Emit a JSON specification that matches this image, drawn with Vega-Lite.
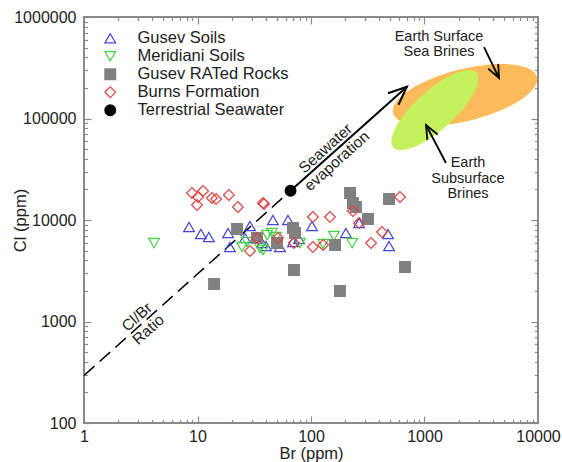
{
  "$schema": "https://vega.github.io/schema/vega-lite/v6.json",
  "width": 454,
  "height": 406,
  "autosize": {"type": "none"},
  "padding": {"left": 84, "top": 17, "right": 24, "bottom": 39},
  "background": "white",
  "config": {
    "font": "Liberation Sans",
    "view": {"stroke": "#8a8a8a", "strokeWidth": 2},
    "axis": {
      "grid": false,
      "domain": false,
      "tickColor": "#8a8a8a",
      "tickWidth": 1.2,
      "labelFont": "Liberation Sans",
      "labelFontSize": 16,
      "labelColor": "#222222",
      "titleFont": "Liberation Sans",
      "titleFontSize": 16.5,
      "titleFontWeight": "normal",
      "titleColor": "#222222"
    }
  },
  "datasets": {
    "samples": [
      {"series": "Gusev Soils", "Br": 8.42, "Cl": 8530},
      {"series": "Gusev Soils", "Br": 10.7, "Cl": 7280},
      {"series": "Gusev Soils", "Br": 12.6, "Cl": 6800},
      {"series": "Gusev Soils", "Br": 18.6, "Cl": 7450},
      {"series": "Gusev Soils", "Br": 19.3, "Cl": 5420},
      {"series": "Gusev Soils", "Br": 29.0, "Cl": 8730},
      {"series": "Gusev Soils", "Br": 46.2, "Cl": 10000},
      {"series": "Gusev Soils", "Br": 62.7, "Cl": 10000},
      {"series": "Gusev Soils", "Br": 102, "Cl": 8730},
      {"series": "Gusev Soils", "Br": 203, "Cl": 7450},
      {"series": "Gusev Soils", "Br": 487, "Cl": 5540},
      {"series": "Gusev Soils", "Br": 477, "Cl": 7280},
      {"series": "Gusev Soils", "Br": 265, "Cl": 9340},
      {"series": "Gusev Soils", "Br": 37.0, "Cl": 5930},
      {"series": "Gusev Soils", "Br": 53.3, "Cl": 5420},
      {"series": "Gusev Soils", "Br": 69.4, "Cl": 6080},
      {"series": "Gusev Soils", "Br": 78.4, "Cl": 6500},
      {"series": "Gusev Soils", "Br": 40.1, "Cl": 5540},
      {"series": "Gusev Soils", "Br": 26.2, "Cl": 6650},
      {"series": "Meridiani Soils", "Br": 4.14, "Cl": 5930},
      {"series": "Meridiani Soils", "Br": 24.7, "Cl": 5420},
      {"series": "Meridiani Soils", "Br": 27.3, "Cl": 6080},
      {"series": "Meridiani Soils", "Br": 35.5, "Cl": 5300},
      {"series": "Meridiani Soils", "Br": 37.8, "Cl": 5060},
      {"series": "Meridiani Soils", "Br": 41.0, "Cl": 7120},
      {"series": "Meridiani Soils", "Br": 45.3, "Cl": 7450},
      {"series": "Meridiani Soils", "Br": 49.2, "Cl": 6800},
      {"series": "Meridiani Soils", "Br": 80.0, "Cl": 5930},
      {"series": "Meridiani Soils", "Br": 128, "Cl": 5800},
      {"series": "Meridiani Soils", "Br": 230, "Cl": 5930},
      {"series": "Meridiani Soils", "Br": 159, "Cl": 6960},
      {"series": "Gusev RATed Rocks", "Br": 14.0, "Cl": 2340},
      {"series": "Gusev RATed Rocks", "Br": 22.3, "Cl": 8150},
      {"series": "Gusev RATed Rocks", "Br": 33.4, "Cl": 6650},
      {"series": "Gusev RATed Rocks", "Br": 50.2, "Cl": 5930},
      {"series": "Gusev RATed Rocks", "Br": 69.4, "Cl": 8340},
      {"series": "Gusev RATed Rocks", "Br": 72.3, "Cl": 7450},
      {"series": "Gusev RATed Rocks", "Br": 70.8, "Cl": 3220},
      {"series": "Gusev RATed Rocks", "Br": 163, "Cl": 5670},
      {"series": "Gusev RATed Rocks", "Br": 221, "Cl": 18450},
      {"series": "Gusev RATed Rocks", "Br": 234, "Cl": 14710},
      {"series": "Gusev RATed Rocks", "Br": 249, "Cl": 13430},
      {"series": "Gusev RATed Rocks", "Br": 318, "Cl": 10230},
      {"series": "Gusev RATed Rocks", "Br": 487, "Cl": 16100},
      {"series": "Gusev RATed Rocks", "Br": 673, "Cl": 3440},
      {"series": "Gusev RATed Rocks", "Br": 180, "Cl": 2000},
      {"series": "Burns Formation", "Br": 8.94, "Cl": 18450},
      {"series": "Burns Formation", "Br": 11.2, "Cl": 19310},
      {"series": "Burns Formation", "Br": 10.1, "Cl": 16850},
      {"series": "Burns Formation", "Br": 9.9, "Cl": 14050},
      {"series": "Burns Formation", "Br": 13.4, "Cl": 16470},
      {"series": "Burns Formation", "Br": 14.6, "Cl": 16100},
      {"series": "Burns Formation", "Br": 18.9, "Cl": 17630},
      {"series": "Burns Formation", "Br": 22.7, "Cl": 13430},
      {"series": "Burns Formation", "Br": 37.8, "Cl": 14710},
      {"series": "Burns Formation", "Br": 38.6, "Cl": 14380},
      {"series": "Burns Formation", "Br": 29.0, "Cl": 4950},
      {"series": "Burns Formation", "Br": 33.4, "Cl": 6650},
      {"series": "Burns Formation", "Br": 51.2, "Cl": 6650},
      {"series": "Burns Formation", "Br": 70.8, "Cl": 5930},
      {"series": "Burns Formation", "Br": 104, "Cl": 10710},
      {"series": "Burns Formation", "Br": 147, "Cl": 10710},
      {"series": "Burns Formation", "Br": 104, "Cl": 5420},
      {"series": "Burns Formation", "Br": 128, "Cl": 5670},
      {"series": "Burns Formation", "Br": 234, "Cl": 12270},
      {"series": "Burns Formation", "Br": 265, "Cl": 9340},
      {"series": "Burns Formation", "Br": 422, "Cl": 7620},
      {"series": "Burns Formation", "Br": 338, "Cl": 5930},
      {"series": "Burns Formation", "Br": 608, "Cl": 16850},
      {"series": "Terrestrial Seawater", "Br": 66, "Cl": 19400}
    ]
  },
  "layer": [
    {
      "data": {"values": [{"Br": 2275, "Cl": 170400}]},
      "mark": {"type": "point", "shape": "M1,0C1,0.1933 0.5523,0.35 0,0.35C-0.5523,0.35 -1,0.1933 -1,0C-1,-0.1933 -0.5523,-0.35 0,-0.35C0.5523,-0.35 1,-0.1933 1,0Z", "size": 22000, "angle": 346, "filled": true, "fill": "#fcbb5a", "strokeWidth": 0, "opacity": 1, "clip": true},
      "encoding": {
        "x": {"field": "Br", "type": "quantitative", "scale": {"type": "log", "domain": [1, 10000], "nice": false},
          "axis": {"orient": "top", "values": [2,3,4,5,6,7,8,9,20,30,40,50,60,70,80,90,200,300,400,500,600,700,800,900,2000,3000,4000,5000,6000,7000,8000,9000],
            "labels": false, "title": null, "tickSize": -3.5}},
        "y": {"field": "Cl", "type": "quantitative", "scale": {"type": "log", "domain": [100, 1000000], "nice": false},
          "axis": {"orient": "right", "values": [200,300,400,500,600,700,800,900,2000,3000,4000,5000,6000,7000,8000,9000,20000,30000,40000,50000,60000,70000,80000,90000,200000,300000,400000,500000,600000,700000,800000,900000],
            "labels": false, "title": null, "tickSize": -3.5}}
      }
    },
    {
      "data": {"values": [{"Br": 1237, "Cl": 121200}]},
      "mark": {"type": "point", "shape": "M1,0C1,0.1933 0.5523,0.35 0,0.35C-0.5523,0.35 -1,0.1933 -1,0C-1,-0.1933 -0.5523,-0.35 0,-0.35C0.5523,-0.35 1,-0.1933 1,0Z", "size": 12500, "angle": 318, "filled": true, "fill": "#c4f15e", "strokeWidth": 0, "opacity": 1, "clip": true},
      "encoding": {
        "x": {"field": "Br", "type": "quantitative", "scale": {"type": "log", "domain": [1, 10000], "nice": false},
          "axis": {"orient": "bottom", "values": [2,3,4,5,6,7,8,9,20,30,40,50,60,70,80,90,200,300,400,500,600,700,800,900,2000,3000,4000,5000,6000,7000,8000,9000],
            "labels": false, "title": null, "tickSize": -3.5}},
        "y": {"field": "Cl", "type": "quantitative", "scale": {"type": "log", "domain": [100, 1000000], "nice": false},
          "axis": {"orient": "left", "values": [200,300,400,500,600,700,800,900,2000,3000,4000,5000,6000,7000,8000,9000,20000,30000,40000,50000,60000,70000,80000,90000,200000,300000,400000,500000,600000,700000,800000,900000],
            "labels": false, "title": null, "tickSize": -3.5}}
      }
    },
    {
      "data": {"values": [{"Br": 1, "Cl": 294, "Br2": 66, "Cl2": 19400}]},
      "mark": {"type": "rule", "color": "black", "strokeWidth": 1.5, "strokeDash": [14, 7]},
      "encoding": {
        "x": {"field": "Br", "type": "quantitative", "scale": {"type": "log", "domain": [1, 10000], "nice": false},
          "axis": {"orient": "top", "values": [1, 10, 100, 1000, 10000], "labels": false, "title": null, "tickSize": -7}},
        "y": {"field": "Cl", "type": "quantitative", "scale": {"type": "log", "domain": [100, 1000000], "nice": false},
          "axis": {"orient": "right", "values": [100, 1000, 10000, 100000, 1000000], "labels": false, "title": null, "tickSize": -7}},
        "x2": {"field": "Br2"},
        "y2": {"field": "Cl2"}
      }
    },
    {
      "data": {"values": [{"Br": 66, "Cl": 19400, "Br2": 700, "Cl2": 205800}]},
      "mark": {"type": "rule", "color": "black", "strokeWidth": 2},
      "encoding": {
        "x": {"field": "Br", "type": "quantitative", "scale": {"type": "log", "domain": [1, 10000], "nice": false}, "axis": null},
        "y": {"field": "Cl", "type": "quantitative", "scale": {"type": "log", "domain": [100, 1000000], "nice": false}, "axis": null},
        "x2": {"field": "Br2"},
        "y2": {"field": "Cl2"}
      }
    },
    {
      "data": {"values": [{"Br": 3345, "Cl": 505800, "Br2": 4531, "Cl2": 250600}, {"Br": 1546, "Cl": 36430, "Br2": 1031, "Cl2": 86300}]},
      "mark": {"type": "rule", "color": "black", "strokeWidth": 1.8},
      "encoding": {
        "x": {"field": "Br", "type": "quantitative", "scale": {"type": "log", "domain": [1, 10000], "nice": false}, "axis": null},
        "y": {"field": "Cl", "type": "quantitative", "scale": {"type": "log", "domain": [100, 1000000], "nice": false}, "axis": null},
        "x2": {"field": "Br2"},
        "y2": {"field": "Cl2"}
      }
    },
    {
      "data": {"values": [{"Br": 700, "Cl": 205800}]},
      "mark": {"type": "point", "shape": "M-0.39,0.92L0,0L0.39,0.92", "size": 1600, "angle": 48, "filled": false, "stroke": "black", "strokeWidth": 2, "opacity": 1},
      "encoding": {
        "x": {"field": "Br", "type": "quantitative", "scale": {"type": "log", "domain": [1, 10000], "nice": false}, "axis": null},
        "y": {"field": "Cl", "type": "quantitative", "scale": {"type": "log", "domain": [100, 1000000], "nice": false}, "axis": null}
      }
    },
    {
      "data": {"values": [{"Br": 4531, "Cl": 250600}]},
      "mark": {"type": "point", "shape": "M-0.39,0.92L0,0L0.39,0.92", "size": 800, "angle": 154, "filled": false, "stroke": "black", "strokeWidth": 1.8, "opacity": 1},
      "encoding": {
        "x": {"field": "Br", "type": "quantitative", "scale": {"type": "log", "domain": [1, 10000], "nice": false}, "axis": null},
        "y": {"field": "Cl", "type": "quantitative", "scale": {"type": "log", "domain": [100, 1000000], "nice": false}, "axis": null}
      }
    },
    {
      "data": {"values": [{"Br": 1031, "Cl": 86300}]},
      "mark": {"type": "point", "shape": "M-0.39,0.92L0,0L0.39,0.92", "size": 900, "angle": 332, "filled": false, "stroke": "black", "strokeWidth": 1.8, "opacity": 1},
      "encoding": {
        "x": {"field": "Br", "type": "quantitative", "scale": {"type": "log", "domain": [1, 10000], "nice": false}, "axis": null},
        "y": {"field": "Cl", "type": "quantitative", "scale": {"type": "log", "domain": [100, 1000000], "nice": false}, "axis": null}
      }
    },
    {
      "data": {"name": "samples"},
      "mark": {"type": "point", "filled": true, "strokeWidth": 1.2, "opacity": 1},
      "encoding": {
        "x": {"field": "Br", "type": "quantitative", "scale": {"type": "log", "domain": [1, 10000], "nice": false},
          "axis": {"orient": "bottom", "values": [1, 10, 100, 1000, 10000],
            "format": "d", "labelOverlap": false, "labelFlush": false, "labelBound": false, "labelPadding": 12,
            "tickSize": -7,
            "title": "Br (ppm)", "titleX": 227, "titleY": 30, "titleBaseline": "middle"}},
        "y": {"field": "Cl", "type": "quantitative", "scale": {"type": "log", "domain": [100, 1000000], "nice": false},
          "axis": {"orient": "left", "values": [100, 1000, 10000, 100000, 1000000],
            "format": "d", "labelOverlap": false, "labelFlush": false, "labelBound": false, "labelPadding": 15,
            "tickSize": -7,
            "title": "Cl (ppm)", "titleX": -64, "titleY": 203, "titleBaseline": "middle"}},
        "shape": {"field": "series", "type": "nominal",
          "scale": {"domain": ["Gusev Soils", "Meridiani Soils", "Gusev RATed Rocks", "Burns Formation", "Terrestrial Seawater"], "range": ["triangle-up", "triangle-down", "square", "diamond", "circle"]},
          "legend": {"title": null, "orient": "none", "legendX": 18, "legendY": 13, "padding": 0, "labelFontSize": 16.5, "labelFont": "Liberation Sans", "labelColor": "#222222", "labelOffset": 19, "rowPadding": 1, "symbolStrokeWidth": 1.2}},
        "fill": {"field": "series", "type": "nominal",
          "scale": {"domain": ["Gusev Soils", "Meridiani Soils", "Gusev RATed Rocks", "Burns Formation", "Terrestrial Seawater"], "range": ["transparent", "transparent", "#808080", "transparent", "#000000"]}},
        "stroke": {"field": "series", "type": "nominal",
          "scale": {"domain": ["Gusev Soils", "Meridiani Soils", "Gusev RATed Rocks", "Burns Formation", "Terrestrial Seawater"], "range": ["#4646d8", "#46d246", "#808080", "#e04242", "#000000"]}},
        "size": {"field": "series", "type": "nominal",
          "scale": {"domain": ["Gusev Soils", "Meridiani Soils", "Gusev RATed Rocks", "Burns Formation", "Terrestrial Seawater"], "range": [115, 115, 70, 120, 170]}}
      }
    },
    {
      "data": {"values": [{"Br": 1342, "Cl": 635300, "label": "Earth Surface\nSea Brines"}, {"Br": 2416, "Cl": 36430, "label": "Earth\nSubsurface\nBrines"}]},
      "mark": {"type": "text", "lineBreak": "\n", "fontSize": 14.5, "lineHeight": 15.5, "align": "center", "baseline": "middle", "color": "#222222", "font": "Liberation Sans"},
      "encoding": {
        "x": {"field": "Br", "type": "quantitative", "scale": {"type": "log", "domain": [1, 10000], "nice": false}, "axis": null},
        "y": {"field": "Cl", "type": "quantitative", "scale": {"type": "log", "domain": [100, 1000000], "nice": false}, "axis": null},
        "text": {"field": "label", "type": "nominal"}
      }
    },
    {
      "data": {"values": [{"Br": 134.2, "Cl": 50750, "label": "Seawater\nevaporation"}, {"Br": 2.93, "Cl": 1107, "label": "Cl/Br\nRatio"}]},
      "mark": {"type": "text", "lineBreak": "\n", "fontSize": 15.5, "lineHeight": 17, "align": "center", "baseline": "middle", "angle": 318, "color": "#222222", "font": "Liberation Sans"},
      "encoding": {
        "x": {"field": "Br", "type": "quantitative", "scale": {"type": "log", "domain": [1, 10000], "nice": false}, "axis": null},
        "y": {"field": "Cl", "type": "quantitative", "scale": {"type": "log", "domain": [100, 1000000], "nice": false}, "axis": null},
        "text": {"field": "label", "type": "nominal"}
      }
    }
  ],
  "resolve": {"axis": {"x": "independent", "y": "independent"}}
}
